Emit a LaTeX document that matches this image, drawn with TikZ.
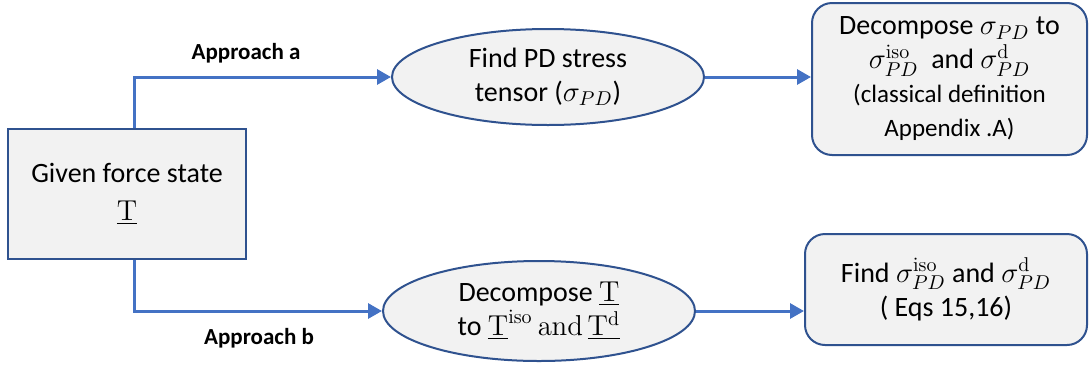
\documentclass[tikz,border=0pt]{standalone}
\usepackage[no-math]{fontspec}
\setmainfont{Carlito}
\usetikzlibrary{arrows.meta,shapes.geometric,calc}
\definecolor{boxfill}{HTML}{F2F2F2}
\definecolor{boxline}{HTML}{2F528F}
\definecolor{arrblue}{HTML}{4472C4}
\newcommand{\uT}{\underline{\mathrm{T}}}
\begin{document}
\begin{tikzpicture}[x=0.5pt,y=-0.5pt,
  txt/.style={font=\fontsize{14}{17}\selectfont, align=center, inner sep=0pt},
  sqbox/.style={txt, draw=boxline, fill=boxfill, line width=1pt},
  rbox/.style={sqbox, rounded corners=10pt},
  ebox/.style={txt, ellipse, draw=boxline, fill=boxfill, line width=1pt},
  arr/.style={draw=arrblue, line width=1.5pt, -{Triangle[length=7pt,width=7.5pt]}},
  lab/.style={font=\fontsize{11.5}{14}\selectfont\bfseries, inner sep=0pt}]
\useasboundingbox (0,0) rectangle (1090,370);

\node[sqbox, minimum width=119pt, minimum height=65pt] (given) at (127,194)
  {Given force state\\[2pt] $\uT$};
\node[ebox, minimum width=156pt, minimum height=48pt] (ella) at (548,77)
  {Find PD stress\\ tensor ($\sigma_{PD}$)};
\node[rbox, minimum width=137.5pt, minimum height=76pt] (boxa) at (949.5,79)
  {Decompose $\sigma_{PD}$ to\\ $\sigma_{PD}^{\mathrm{iso}}$\ \ and $\sigma_{PD}^{\mathrm{d}}$\\
   {\fontsize{12.5}{16}\selectfont (classical definition}\\
   {\fontsize{12.5}{16}\selectfont Appendix .A)}};
\node[ebox, minimum width=156pt, minimum height=50pt] (ellb) at (539,311)
  {Decompose $\uT$\\ to $\uT^{\mathrm{iso}}\,\mathrm{and}\,\underline{\mathrm{T}^{\mathrm{d}}}$};
\node[rbox, minimum width=141pt, minimum height=55.5pt] (boxb) at (946,289.5)
  {Find $\sigma_{PD}^{\mathrm{iso}}$ and $\sigma_{PD}^{\mathrm{d}}$\\ ( Eqs 15,16)};

\draw[arr] ([xshift=3.5pt]given.north) |- (ella.west);
\draw[arr] ([xshift=3.5pt]given.south) |- (ellb.west);
\draw[arr] (ella.east) -- (ella.east -| boxa.west);
\draw[arr] (ellb.east) -- (ellb.east -| boxb.west);

\node[lab] (la) at (246,53) {Approach a};
\node[lab] (lb) at (259,338) {Approach b};
\end{tikzpicture}
\end{document}
